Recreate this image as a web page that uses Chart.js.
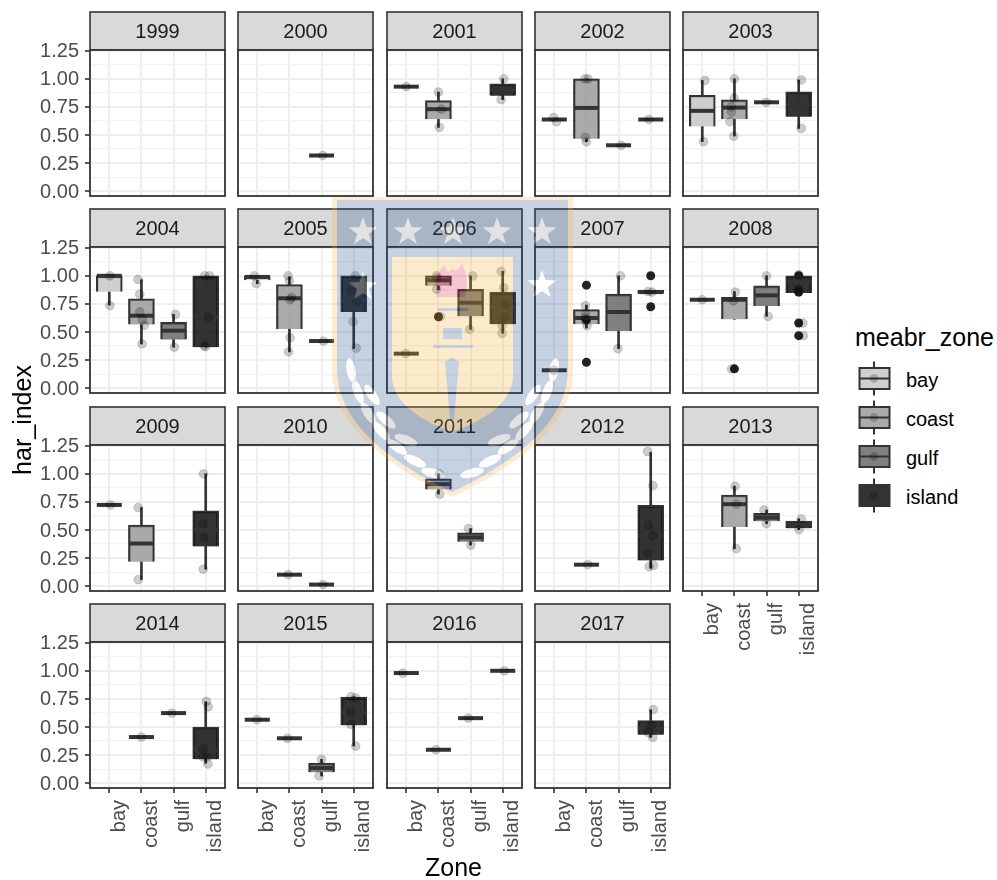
<!DOCTYPE html>
<html>
<head>
<meta charset="utf-8">
<title>har_index by zone</title>
<script src="https://cdn.jsdelivr.net/npm/chart.js@4"></script>
<style>
html, body { margin: 0; padding: 0; background: #fff; }
#page { position: relative; width: 997px; height: 880px; overflow: hidden; font-family: "Liberation Sans", Arial, sans-serif; }
#page canvas { position: absolute; }
.lbl { position: absolute; white-space: nowrap; color: #000; }
#watermark { position: absolute; left: 0; top: 0; pointer-events: none; opacity: .25; }
</style>
</head>
<body>
<div id="page"></div>
<script>
const years = [1999, 2000, 2001, 2002, 2003, 2004, 2005, 2006, 2007, 2008, 2009, 2010, 2011, 2012, 2013, 2014, 2015, 2016, 2017];
const zones = ['bay', 'coast', 'gulf', 'island'];
const yTicks = [0, 0.125, 0.25, 0.375, 0.5, 0.625, 0.75, 0.875, 1, 1.125, 1.25];

// boxes: [zone (1-4), lower whisker, q1, median, q3, upper whisker]
const box1999 = [];
const box2000 = [[3, .318, .318, .318, .318, .318]];
const box2001 = [[1, .93, .93, .93, .93, .93], [2, .568, .641, .73, .806, .882], [4, .815, .85, .9, .956, 1]];
const box2002 = [[1, .638, .638, .638, .638, .638], [2, .44, .468, .741, 1, 1], [3, .409, .409, .409, .409, .409], [4, .638, .638, .638, .638, .638]];
const box2003 = [[1, .441, .576, .715, .853, .985], [2, .491, .641, .744, .812, 1], [3, .791, .791, .791, .791, .791], [4, .559, .662, .77, .885, .99]];
const box2004 = [[1, .74, .858, 1, 1, 1], [2, .394, .566, .645, .796, .965], [3, .365, .433, .512, .586, .657], [4, .365, .365, .634, 1, 1]];
const box2005 = [[1, .93, .96, .99, 1, 1], [2, .323, .527, .8, .923, .99], [3, .42, .42, .42, .42, .42], [4, .353, .678, .78, 1, 1]];
const box2006 = [[1, .308, .308, .308, .308, .308], [2, .876, .911, .96, 1, 1], [3, .524, .64, .76, .879, 1], [4, .489, .569, .72, .855, 1.04]];
const box2007 = [[1, .16, .16, .16, .16, .16], [2, .536, .57, .625, .7, .74], [3, .353, .51, .678, .837, 1], [4, .84, .84, .855, .87, .87]];
const box2008 = [[1, .787, .787, .787, .787, .787], [2, .613, .613, .787, .808, .86], [3, .64, .731, .826, .911, 1], [4, .846, .846, .95, 1, 1]];
const box2009 = [[1, .723, .723, .723, .723, .723], [2, .06, .218, .38, .543, .7], [4, .153, .354, .5, .67, 1]];
const box2010 = [[2, .103, .103, .103, .103, .103], [3, .015, .015, .015, .015, .015]];
const box2011 = [[2, .82, .861, .908, .956, 1], [3, .366, .395, .434, .475, .513]];
const box2012 = [[2, .192, .192, .192, .192, .192], [4, .16, .23, .45, .72, 1.19]];
const box2013 = [[2, .334, .527, .73, .81, .89], [3, .556, .577, .61, .648, .678], [4, .503, .515, .55, .58, .6]];
const box2014 = [[2, .411, .411, .411, .411, .411], [3, .624, .624, .624, .624, .624], [4, .178, .213, .3, .5, .725]];
const box2015 = [[1, .565, .565, .565, .565, .565], [2, .4, .4, .4, .4, .4], [3, .065, .098, .136, .18, .213], [4, .331, .515, .63, .766, .77]];
const box2016 = [[1, .98, .98, .98, .98, .98], [2, .298, .298, .298, .298, .298], [3, .579, .579, .579, .579, .579], [4, 1, 1, 1, 1, 1]];
const box2017 = [[4, .408, .431, .49, .558, .653]];

// jittered observations: [x on the zone axis, har_index]
const obs1999 = [];
const obs2000 = [[3.04, .318]];
const obs2001 = [[1, .93], [2, .882], [2.09, .73], [2.03, .568], [4.03, 1], [3.95, .815]];
const obs2002 = [[.98, .656], [1.07, .618], [1.95, 1], [2.05, 1], [1.96, .48], [2, .44], [3.08, .409], [3.94, .638]];
const obs2003 = [[1.08, .985], [1.04, .441], [2, 1], [1.99, .829], [1.9, .75], [1.91, .706], [1.86, .618], [1.98, .491], [2.99, .791], [4.08, .99], [4.08, .559]];
const obs2004 = [[1.02, 1], [1.02, .735], [1.89, .967], [1.95, .837], [1.95, .678], [2.03, .61], [2.09, .56], [2.02, .394], [3.06, .657], [3.02, .365], [3.97, 1], [4.12, 1], [4.09, .634], [3.95, .376], [4, .37]];
const obs2005 = [[.91, 1], [.97, .93], [1.96, 1], [2, .956], [2.07, .808], [2.02, .787], [2.02, .45], [1.97, .323], [3.06, .42], [4.05, 1], [3.9, .864], [4.08, .772], [3.98, .592], [4.08, .356]];
const obs2006 = [[.98, .308], [1.94, 1], [1.95, .98], [1.94, .882], [2.06, .636], [3.07, 1], [2.97, .524], [3.95, 1.04], [4.03, .894], [4.09, .746], [4.08, .634], [3.98, .557], [3.98, .489]];
const obs2007 = [[.99, .16], [1.97, .734], [1.98, .66], [1.97, .625], [1.98, .6], [2.02, .556], [3.06, 1], [2.98, .353], [3.92, .86], [4.04, .855]];
const obs2008 = [[1, .787], [2.03, .855], [1.97, .778], [1.91, .173], [3, 1], [3.05, .64], [4, 1.01], [3.97, .876], [4, .855], [4.13, .58], [4.15, .468]];
const obs2009 = [[1.04, .723], [1.9, .7], [1.9, .06], [3.93, 1], [3.92, .558], [3.95, .434], [3.92, .153]];
const obs2010 = [[1.96, .103], [3.05, .015]];
const obs2011 = [[2.03, 1], [2.04, .82], [2.93, .513], [3.01, .366]];
const obs2012 = [[2.04, .192], [3.9, 1.198], [4.07, .894], [3.93, .543], [4.07, .448], [3.9, .295], [3.95, .174], [4.09, .186]];
const obs2013 = [[2.02, .89], [2.06, .73], [2.06, .334], [2.92, .678], [2.99, .556], [4.08, .6], [4.01, .503]];
const obs2014 = [[2, .411], [2.95, .624], [4.02, .728], [4.08, .68], [3.92, .308], [3.92, .234], [4.04, .234], [4.07, .172]];
const obs2015 = [[.99, .565], [1.94, .4], [3, .213], [2.92, .065], [3.92, .77], [4.06, .76], [3.91, .63], [3.91, .524], [4.06, .331]];
const obs2016 = [[.89, .98], [1.92, .298], [2.93, .579], [4.05, 1]];
const obs2017 = [[4.08, .656], [4.03, .514], [3.92, .452], [4.06, .408]];

// outliers drawn by the boxplots
const outlierYear = [2006, 2007, 2007, 2007, 2007, 2007, 2008, 2008, 2008, 2008, 2008, 2008];
const outlierZone = [2, 2, 2, 2, 4, 4, 2, 4, 4, 4, 4, 4];
const outlierValue = [.636, .917, .231, .61, 1, .725, .173, 1, .876, .855, .58, .468];

const allBoxes = [box1999, box2000, box2001, box2002, box2003, box2004, box2005, box2006, box2007, box2008, box2009, box2010, box2011, box2012, box2013, box2014, box2015, box2016, box2017];
const allObs = [obs1999, obs2000, obs2001, obs2002, obs2003, obs2004, obs2005, obs2006, obs2007, obs2008, obs2009, obs2010, obs2011, obs2012, obs2013, obs2014, obs2015, obs2016, obs2017];

const zoneFill = ['rgba(195,195,195,.8)', 'rgba(149,149,149,.8)', 'rgba(96,96,96,.8)', 'rgba(0,0,0,.8)'];
const DARK = '#333333';
const FONT = '"Liberation Sans", Arial, sans-serif';

// facet layout
const colX = [90, 238, 387, 535, 683];
const rowY = [12, 209, 407, 604];
const PANEL_W = 135, STRIP_H = 38, PANEL_H = 146;

const page = document.getElementById('page');

// strip background behind the title, panel frame on top of the marks
const facetFrame = {
    id: 'facetFrame',
    beforeDraw(chart) {
        const a = chart.chartArea, c = chart.ctx;
        c.save();
        c.fillStyle = '#d9d9d9';
        c.strokeStyle = DARK;
        c.lineWidth = 1.6;
        c.fillRect(a.left, a.top - STRIP_H, a.width, STRIP_H);
        c.strokeRect(a.left, a.top - STRIP_H, a.width, STRIP_H);
        c.restore();
    },
    afterDraw(chart) {
        const a = chart.chartArea, c = chart.ctx;
        c.save();
        c.strokeStyle = DARK;
        c.lineWidth = 1.8;
        c.strokeRect(a.left, a.top, a.width, a.height);
        c.restore();
    }
};

function drawFacet(i) {
    const col = i % 5, row = Math.floor(i / 5);
    const showY = col === 0;
    const showX = row === 3 || i === 14;
    const left = showY ? 60 : 2;
    const bottom = showX ? 66 : 0;

    const canvas = document.createElement('canvas');
    canvas.width = left + PANEL_W + 2;
    canvas.height = 2 + STRIP_H + PANEL_H + bottom + 10;
    canvas.style.left = (colX[col] - left) + 'px';
    canvas.style.top = (rowY[row] - 2) + 'px';
    canvas.style.width = canvas.width + 'px';
    canvas.style.height = canvas.height + 'px';
    page.appendChild(canvas);

    const boxes = allBoxes[i];
    const whiskers = [];
    boxes.forEach(b => {
        whiskers.push({x: b[0], y: [b[1], b[2]]});
        whiskers.push({x: b[0], y: [b[4], b[5]]});
    });
    const outliers = [];
    outlierYear.forEach((y, k) => {
        if (y === years[i]) outliers.push({x: outlierZone[k], y: outlierValue[k]});
    });

    new Chart(canvas, {
        type: 'bar',
        data: {
            datasets: [
                {
                    type: 'scatter',
                    label: 'observations',
                    data: allObs[i].map(o => ({x: o[0], y: o[1]})),
                    pointRadius: 4.4,
                    pointBorderWidth: 1,
                    pointBackgroundColor: 'rgba(0,0,0,.2)',
                    pointBorderColor: 'rgba(0,0,0,.14)',
                    order: 0
                },
                {
                    type: 'scatter',
                    label: 'median',
                    data: boxes.map(b => ({x: b[0], y: b[3]})),
                    pointStyle: 'line',
                    pointRadius: 12.5,
                    pointBorderWidth: 4,
                    pointBorderColor: DARK,
                    order: 1
                },
                {
                    type: 'scatter',
                    label: 'outliers',
                    data: outliers,
                    pointRadius: 4.5,
                    pointBorderWidth: 0,
                    pointBackgroundColor: '#222222',
                    order: 2
                },
                {
                    label: 'box',
                    data: boxes.map(b => ({x: b[0], y: [b[2], b[4]]})),
                    backgroundColor: boxes.map(b => zoneFill[b[0] - 1]),
                    borderColor: DARK,
                    borderWidth: 2,
                    barThickness: 26,
                    grouped: false,
                    order: 3
                },
                {
                    label: 'whisker',
                    data: whiskers,
                    backgroundColor: DARK,
                    barThickness: 2,
                    grouped: false,
                    order: 4
                }
            ]
        },
        plugins: [facetFrame],
        options: {
            responsive: false,
            animation: false,
            events: [],
            layout: {autoPadding: false, padding: {top: 2, right: 2, bottom: 10, left: 0}},
            plugins: {
                legend: {display: false},
                tooltip: {enabled: false},
                title: {
                    display: true,
                    text: String(years[i]),
                    fullSize: false,
                    color: '#1a1a1a',
                    font: {family: FONT, size: 20, weight: 'normal', lineHeight: '22px'},
                    padding: {top: 9, bottom: 7}
                }
            },
            scales: {
                x: {
                    type: 'linear',
                    min: 0.4,
                    max: 4.6,
                    offset: false,
                    afterBuildTicks: s => { s.ticks = zones.map((z, k) => ({value: k + 1})); },
                    afterFit: s => { s.height = bottom; s.paddingLeft = 0; s.paddingRight = 0; s.paddingTop = 0; s.paddingBottom = 0; },
                    grid: {offset: false, color: '#eeeeee', lineWidth: 2, drawTicks: showX, tickLength: 5, tickColor: DARK, tickWidth: 1.6},
                    border: {display: false},
                    ticks: {
                        display: showX,
                        autoSkip: false,
                        minRotation: 90,
                        maxRotation: 90,
                        padding: 7,
                        color: '#4d4d4d',
                        font: {family: FONT, size: 20, lineHeight: '10px'},
                        callback: v => ['', zones[v - 1]]
                    }
                },
                y: {
                    min: -0.042,
                    max: 1.256,
                    afterBuildTicks: s => { s.ticks = yTicks.map(v => ({value: v})); },
                    afterFit: s => { s.width = left; s.paddingLeft = 0; s.paddingRight = 0; s.paddingTop = 0; s.paddingBottom = 0; },
                    grid: {
                        color: c => (c.tick && c.tick.value * 4 % 1 === 0 ? '#eeeeee' : '#f3f3f3'),
                        lineWidth: c => (c.tick && c.tick.value * 4 % 1 === 0 ? 2 : 1.2),
                        drawTicks: showY,
                        tickLength: 5,
                        tickWidth: 1.6,
                        tickColor: c => (c.tick && c.tick.value * 4 % 1 === 0 ? DARK : 'rgba(0,0,0,0)')
                    },
                    border: {display: false},
                    ticks: {
                        display: showY,
                        autoSkip: false,
                        padding: 6,
                        labelOffset: 1,
                        color: '#4d4d4d',
                        font: {family: FONT, size: 20},
                        callback: v => (v * 4 % 1 === 0 ? v.toFixed(2) : '')
                    }
                }
            }
        }
    });
}
years.forEach((y, i) => drawFacet(i));

// axis titles and legend
function addLabel(text, x, y, size, extra) {
    const d = document.createElement('div');
    d.className = 'lbl';
    d.textContent = text;
    d.style.left = x + 'px';
    d.style.top = y + 'px';
    d.style.fontSize = size + 'px';
    d.style.lineHeight = '1';
    if (extra) d.style.cssText += extra;
    page.appendChild(d);
}
addLabel('Zone', 425, 855, 25);
addLabel('har_index', 22, 420, 25, 'transform:translate(-50%,-50%) rotate(-90deg);');
addLabel('meabr_zone', 855, 325, 25);

const NS = 'http://www.w3.org/2000/svg';
const keySvg = document.createElementNS(NS, 'svg');
keySvg.setAttribute('width', 997);
keySvg.setAttribute('height', 880);
keySvg.style.cssText = 'position:absolute;left:0;top:0;';
let keyMarkup = '';
zones.forEach((z, k) => {
    const cy = 378.5 + k * 39;
    keyMarkup += '<line x1="874" x2="874" y1="' + (cy - 17) + '" y2="' + (cy - 10) + '" stroke="#333" stroke-width="2"/>'
        + '<line x1="874" x2="874" y1="' + (cy + 10) + '" y2="' + (cy + 17) + '" stroke="#333" stroke-width="2"/>'
        + '<rect x="859.5" y="' + (cy - 10.5) + '" width="30" height="21" fill="' + zoneFill[k] + '" stroke="#333" stroke-width="2"/>'
        + '<line x1="859.5" x2="889.5" y1="' + cy + '" y2="' + cy + '" stroke="#333" stroke-width="2"/>'
        + '<circle cx="874" cy="' + cy + '" r="4.4" fill="rgba(0,0,0,.2)"/>';
    addLabel(z, 906, cy - 9, 20);
});
keySvg.innerHTML = keyMarkup;
page.appendChild(keySvg);

// faint university crest over the whole picture
function starPath(cx, cy, r) {
    let s = '';
    for (let k = 0; k < 10; k++) {
        const rr = k % 2 ? r * 0.4 : r;
        const a = -Math.PI / 2 + k * Math.PI / 5;
        s += (k ? 'L' : 'M') + (cx + rr * Math.cos(a)).toFixed(1) + ',' + (cy + rr * Math.sin(a)).toFixed(1);
    }
    return s + 'Z';
}
const crestStars = [[363, 232], [408, 232], [453, 232], [497, 232], [542, 232], [363, 287], [542, 285]];
const crestLeaves = [
    [351, 370, -10], [358, 392, -20], [368, 413, -32], [381, 431, -42], [397, 447, -55], [415, 461, -65], [433, 473, -75],
    [554, 370, 10], [547, 392, 20], [537, 413, 32], [524, 431, 42], [508, 447, 55], [490, 461, 65], [472, 473, 75],
    [372, 395, -35], [386, 420, -50], [406, 440, -70], [533, 395, 35], [519, 420, 50], [499, 440, 70]
];
let crest = '<path d="M332,197H573V370Q573,440 452,497Q332,440 332,370Z" fill="#f2b84a"/>'
    + '<path d="M337,200H568V370Q568,437 452,492Q337,437 337,370Z" fill="#1f4e8c"/>'
    + '<path d="M392,257H513V375Q513,410 452,432Q392,410 392,375Z" fill="#f2ae30"/>'
    + '<path d="M437,297Q432,275 445,265Q447,277 452,268Q456,275 462,263Q470,280 465,297Z" fill="#d92050"/>'
    + '<path d="M452,357L459,362L454,420L450,420L445,362Z" fill="#1f4e8c"/>'
    + '<rect x="433" y="345" width="40" height="3" fill="#1f4e8c"/>'
    + '<rect x="443" y="328" width="19" height="11" fill="#1f4e8c"/>'
    + '<rect x="438" y="308" width="30" height="3" fill="#1f4e8c"/>';
crestStars.forEach(s => { crest += '<path d="' + starPath(s[0], s[1], 15) + '" fill="#fff"/>'; });
crestLeaves.forEach(l => {
    crest += '<ellipse cx="' + l[0] + '" cy="' + l[1] + '" rx="4.5" ry="12" fill="#fff" transform="rotate(' + l[2] + ' ' + l[0] + ' ' + l[1] + ')"/>';
});
const crestSvg = document.createElementNS(NS, 'svg');
crestSvg.setAttribute('id', 'watermark');
crestSvg.setAttribute('width', 997);
crestSvg.setAttribute('height', 880);
crestSvg.innerHTML = crest;
page.appendChild(crestSvg);
</script>
</body>
</html>
